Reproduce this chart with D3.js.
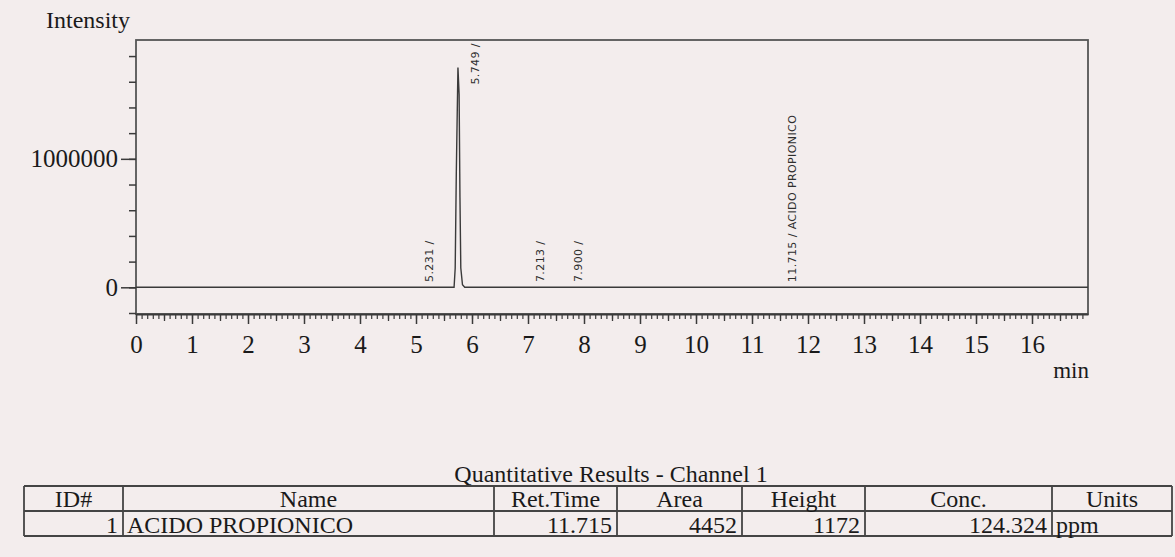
<!DOCTYPE html>
<html>
<head>
<meta charset="utf-8">
<script src="https://cdn.jsdelivr.net/npm/d3@7"></script>
<style>
body { margin:0; background:#f3eded; }
svg { display:block; }
.serif { font-family:"Liberation Serif","Times New Roman",serif; fill:#1a1a1a; }
.peaklbl { font-family:"DejaVu Sans",sans-serif; font-size:11px; letter-spacing:0.4px; fill:#2e2e2e; }
</style>
</head>
<body>
<svg id="chart"></svg>
<script>
// chromatogram trace (min, intensity)
var rtTimes     = [0, 5.68, 5.70, 5.72, 5.749, 5.77, 5.785, 5.80, 5.83, 5.87, 17];
var rtIntensity = [0, 0, 150000, 900000, 1710000, 1500000, 700000, 150000, 20000, 0, 0];

// peak labels
var peakTimes   = [5.231, 5.749, 7.213, 7.900, 11.715];
var peakHeights = [3000, 1710000, 2000, 2000, 1172];
var peakNames   = ["5.231 /", "5.749 /", "7.213 /", "7.900 /", "11.715 / ACIDO PROPIONICO"];

// axis ticks
var xTickValues = [0,1,2,3,4,5,6,7,8,9,10,11,12,13,14,15,16];
var yTickValues = [0, 1000000];
var yTickLabels = ["0", "1000000"];

// results table
var tableTitle   = "Quantitative Results - Channel 1";
var tableHeaders = ["ID#", "Name", "Ret.Time", "Area", "Height", "Conc.", "Units"];
var tableRow     = ["1", "ACIDO PROPIONICO", "11.715", "4452", "1172", "124.324", "ppm"];
var tableAlign   = ["end", "start", "end", "end", "end", "end", "start"];

var screen = {width:1175, height:557};
var plot = {left:136, right:1088, top:40, bottom:314};

var svg = d3.select("#chart")
  .attr("width", screen.width)
  .attr("height", screen.height);

var xScale = d3.scaleLinear()
  .domain([0, 17])
  .range([plot.left, plot.right]);

var yScale = d3.scaleLinear()
  .domain([-200000, 1925000])
  .range([plot.bottom - 1, plot.top]);

// frame
svg.append("rect")
  .attr("x", plot.left)
  .attr("y", plot.top)
  .attr("width", plot.right - plot.left)
  .attr("height", plot.bottom - plot.top)
  .attr("fill", "none")
  .attr("stroke", "#555")
  .attr("stroke-width", 1.8);

// y axis minor + major ticks
var yMinor = d3.axisLeft(yScale)
  .tickValues(d3.range(-200000, 1900000, 200000))
  .tickSize(7)
  .tickSizeOuter(0)
  .tickFormat("");
svg.append("g")
  .attr("transform", "translate(" + plot.left + ",0)")
  .call(yMinor)
  .call(function(g){ g.select(".domain").remove(); })
  .selectAll("line").attr("stroke", "#3a3a3a").attr("stroke-width", 1.5);

var yAxis = d3.axisLeft(yScale)
  .tickValues(yTickValues)
  .tickSize(15)
  .tickPadding(3)
  .tickFormat(function(d, i){ return yTickLabels[i]; });
var yg = svg.append("g")
  .attr("transform", "translate(" + plot.left + ",0)")
  .call(yAxis);
yg.select(".domain").remove();
yg.selectAll("line").attr("stroke", "#3a3a3a").attr("stroke-width", 1.5);
yg.selectAll("text")
  .attr("class", "serif")
  .attr("font-size", "25px")
  .attr("fill", "#1a1a1a");

// x axis ruler: 0.1 min, 0.5 min and whole minutes
var xTenth = d3.axisBottom(xScale)
  .tickValues(d3.range(0, 16.95, 0.1))
  .tickSize(5)
  .tickSizeOuter(0)
  .tickFormat("");
svg.append("g")
  .attr("transform", "translate(0," + plot.bottom + ")")
  .call(xTenth)
  .call(function(g){ g.select(".domain").remove(); })
  .selectAll("line").attr("stroke", "#3a3a3a").attr("stroke-width", 1.2);

var xHalf = d3.axisBottom(xScale)
  .tickValues(d3.range(0.5, 17, 1))
  .tickSize(7)
  .tickSizeOuter(0)
  .tickFormat("");
svg.append("g")
  .attr("transform", "translate(0," + plot.bottom + ")")
  .call(xHalf)
  .call(function(g){ g.select(".domain").remove(); })
  .selectAll("line").attr("stroke", "#3a3a3a").attr("stroke-width", 1.3);

var xAxis = d3.axisBottom(xScale)
  .tickValues(xTickValues)
  .tickSize(10)
  .tickSizeOuter(0)
  .tickPadding(11)
  .tickFormat(d3.format("d"));
var xg = svg.append("g")
  .attr("transform", "translate(0," + plot.bottom + ")")
  .call(xAxis);
xg.select(".domain").attr("stroke", "#3a3a3a").attr("stroke-width", 1.8);
xg.selectAll("line").attr("stroke", "#3a3a3a").attr("stroke-width", 1.5);
xg.selectAll("text")
  .attr("class", "serif")
  .attr("font-size", "25px")
  .attr("fill", "#1a1a1a");

// axis titles
svg.append("text")
  .attr("class", "serif")
  .attr("x", 46)
  .attr("y", 28)
  .attr("font-size", "24px")
  .text("Intensity");

svg.append("text")
  .attr("class", "serif")
  .attr("x", 1089)
  .attr("y", 378)
  .attr("text-anchor", "end")
  .attr("font-size", "23px")
  .text("min");

// trace
var trace = rtTimes.map(function(t, i){ return {t:t, v:rtIntensity[i]}; });
svg.append("path")
  .datum(trace)
  .attr("fill", "none")
  .attr("stroke", "#3a3a3a")
  .attr("stroke-width", 1.4)
  .attr("d", d3.line()
    .x(function(d){ return xScale(d.t); })
    .y(function(d){ return yScale(d.v); }));

// peak labels, rotated; tall peak gets its label beside the apex
svg.selectAll(".peaklbl")
  .data(peakTimes)
  .enter()
  .append("text")
  .attr("class", "peaklbl")
  .attr("transform", function(d, i){
    var x = xScale(d) + 4;
    var y = yScale(peakHeights[i]) - 5;
    if (y - 40 < plot.top) { x = xScale(d) + 21; y = yScale(peakHeights[i]) + 17; }
    return "translate(" + x + "," + y + ") rotate(-90)";
  })
  .text(function(d, i){ return peakNames[i]; });

// results table
var colEdges = [24, 123, 494, 617, 742, 865, 1052, 1172];
var rowEdges = [486, 511, 536];

svg.append("text")
  .attr("class", "serif")
  .attr("x", 611)
  .attr("y", 482)
  .attr("text-anchor", "middle")
  .attr("font-size", "24px")
  .text(tableTitle);

var tbl = svg.append("g");
tbl.selectAll(".hline")
  .data(rowEdges)
  .enter()
  .append("line")
  .attr("x1", colEdges[0])
  .attr("x2", colEdges[colEdges.length - 1])
  .attr("y1", function(d){ return d; })
  .attr("y2", function(d){ return d; })
  .attr("stroke", "#444")
  .attr("stroke-width", 1.8);
tbl.selectAll(".vline")
  .data(colEdges)
  .enter()
  .append("line")
  .attr("x1", function(d){ return d; })
  .attr("x2", function(d){ return d; })
  .attr("y1", rowEdges[0])
  .attr("y2", rowEdges[2])
  .attr("stroke", "#444")
  .attr("stroke-width", 1.8);

tbl.selectAll(".hdr")
  .data(tableHeaders)
  .enter()
  .append("text")
  .attr("class", "serif")
  .attr("font-size", "24px")
  .attr("text-anchor", "middle")
  .attr("x", function(d, i){ return (colEdges[i] + colEdges[i + 1]) / 2; })
  .attr("y", rowEdges[1] - 4)
  .text(function(d){ return d; });

tbl.selectAll(".cell")
  .data(tableRow)
  .enter()
  .append("text")
  .attr("class", "serif")
  .attr("font-size", "24px")
  .attr("text-anchor", function(d, i){ return tableAlign[i]; })
  .attr("x", function(d, i){
    return tableAlign[i] == "end" ? colEdges[i + 1] - 5 : colEdges[i] + 4;
  })
  .attr("y", rowEdges[2] - 3)
  .text(function(d){ return d; });
</script>
</body>
</html>
